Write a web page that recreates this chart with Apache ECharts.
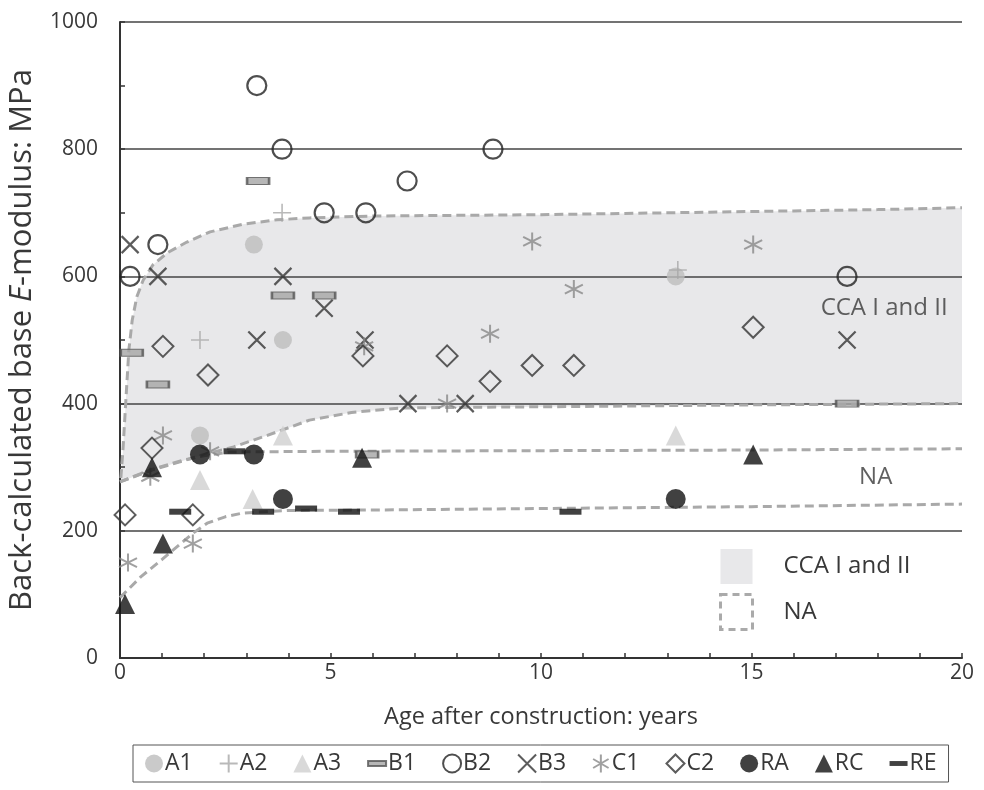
<!DOCTYPE html>
<html>
<head>
<meta charset="utf-8">
<script src="https://cdn.jsdelivr.net/npm/echarts@6/dist/echarts.min.js"></script>
<style>html,body{margin:0;padding:0;background:#fff;}#chart{width:984px;height:790px;}</style>
</head>
<body>
<div id="chart"></div>
<script>
// ---- data (x: years, y: MPa) ----
const A1 = [[3.18,650],[3.87,500],[1.9,350],[13.2,600]];
const A2 = [[3.85,700],[1.9,500],[13.25,610]];
const A3 = [[1.9,280],[3.15,250],[3.87,350],[13.2,350]];
const B1 = [[0.28,480],[0.9,430],[3.28,750],[3.87,570],[4.85,570],[5.87,320],[17.27,400]];
const B2 = [[0.24,600],[0.9,650],[3.25,900],[3.85,800],[4.85,700],[5.84,700],[6.82,750],[8.86,800],[17.27,600]];
const B3 = [[0.24,650],[0.9,600],[3.87,600],[3.25,500],[4.85,550],[5.82,500],[6.84,400],[8.2,400],[17.27,500]];
const C1 = [[0.19,150],[0.72,285],[1.02,350],[2.14,325],[1.73,180],[9.79,655],[8.79,510],[10.78,580],[7.77,400],[15.04,650],[5.8,490]];
const C2 = [[0.12,225],[0.76,330],[1.02,490],[2.09,445],[1.73,225],[5.77,475],[7.77,475],[8.79,435],[9.79,460],[10.78,460],[15.04,520]];
const RA = [[1.9,320],[3.18,320],[3.87,250],[13.2,250]];
const RC = [[0.12,85],[1.02,180],[0.76,300],[5.75,315],[15.04,320]];
const RE = [[1.43,230],[2.72,325],[3.4,230],[4.42,235],[5.44,230],[10.7,230]];

const ccaUpper = [[0.02,283],[0.07,327],[0.14,406],[0.21,484],[0.29,531],[0.4,568],[0.55,594],[0.78,618],[1.12,637],[1.59,654],[2.14,670],[2.92,682],[3.73,689],[4.5,692],[6,695],[8,696],[10,697],[12,699],[14,701],[16,703],[18,705],[20,708]];
const ccaLower = [[0,277],[0.78,296],[1.5,310],[2,320],[2.7,332],[3.5,350],[4.5,374],[5.5,386],[6.65,393],[8,394],[10,395],[15,398],[20,400]];
const naUpper = [[0,277],[0.78,297],[1.5,311],[2,318],[2.6,324],[5,325],[10,326],[15,327],[20,329]];
const naLower = [[0,95],[0.5,128],[1,155],[1.73,196],[2.07,212],[2.5,222],[2.92,228],[4,232],[6.65,233],[10,235],[15,238],[20,242]];

const annotations = [[18.15,550,'CCA I and II'],[17.95,285,'NA']];
const markerNames = ['A1','A2','A3','B1','B2','B3','C1','C2','RA','RC','RE'];

// ---- styles ----
const FONT = 'Open Sans';
const TXT = '#383838';
const FS = 21;
const FS2 = 24;
const PLUS = 'path://M5,0V10M0,5H10';
const CROSS = 'path://M0,0L10,10M10,0L0,10';
const STAR = 'path://M5,0V10M0.7,2.5L9.3,7.5M9.3,2.5L0.7,7.5';
const DASH = 'path://M0,0H22V6H0Z';
const NOFILL = 'rgba(0,0,0,0)';

function sc(name, data, symbol, size, itemStyle) {
  return {name: name, type: 'scatter', data: data, symbol: symbol, symbolSize: size,
    itemStyle: itemStyle, z: 5, emphasis: {disabled: true}};
}
function dashLine(name, data) {
  return {name: name, type: 'line', data: data, showSymbol: false, symbol: 'none', z: 3,
    lineStyle: {color: '#a9a9a9', width: 3, type: [9, 5]}, emphasis: {disabled: true}};
}

const series = [
  {
    name: 'CCA I and II', type: 'custom', z: -1, silent: true,
    itemStyle: {color: '#e8e8ea'},
    data: [0],
    renderItem: function (params, api) {
      const pts = ccaUpper.concat(ccaLower.slice().reverse()).map(p => api.coord(p));
      return {type: 'polygon', shape: {points: pts}, style: {fill: '#e8e8ea'}};
    }
  },
  dashLine('ccaU', ccaUpper),
  dashLine('ccaL', ccaLower),
  dashLine('NA', naUpper),
  dashLine('NA', naLower),
  sc('A1', A1, 'circle', 18, {color: '#bdbdbd'}),
  sc('A2', A2, PLUS, 18, {color: NOFILL, borderColor: '#a8a8a8', borderWidth: 1.6}),
  sc('A3', A3, 'triangle', 20, {color: '#cfcfcf'}),
  sc('B1', B1, DASH, [22, 7], {color: '#a5a5a5', borderColor: '#555', borderWidth: 1.5}),
  sc('B2', B2, 'circle', 19, {color: NOFILL, borderColor: '#222', borderWidth: 2.2}),
  sc('B3', B3, CROSS, 17, {color: NOFILL, borderColor: '#333', borderWidth: 2.2}),
  sc('C1', C1, STAR, 18, {color: NOFILL, borderColor: '#888', borderWidth: 2}),
  sc('C2', C2, 'diamond', [21, 21], {color: NOFILL, borderColor: '#333', borderWidth: 2}),
  sc('RA', RA, 'circle', 20, {color: '#111'}),
  sc('RC', RC, 'triangle', 20, {color: '#111'}),
  sc('RE', RE, DASH, [22, 6], {color: '#111'}),
  {
    name: 'annot', type: 'scatter', data: annotations, symbolSize: 1, z: 6, silent: true,
    itemStyle: {color: NOFILL},
    label: {show: true, position: 'inside', formatter: p => p.data[2],
      fontFamily: FONT, fontSize: FS2, color: TXT}
  }
];

const chart = echarts.init(document.getElementById('chart'), null, {renderer: 'canvas'});
chart.setOption({
  animation: false,
  backgroundColor: '#fff',
  grid: {left: 120, right: 22, top: 22, bottom: 132, containLabel: false, outerBoundsMode: 'none'},
  xAxis: {
    type: 'value', min: 0, max: 20, interval: 5,
    name: 'Age after construction: years', nameLocation: 'middle', nameGap: 47,
    nameTextStyle: {fontFamily: FONT, fontSize: 23.5, color: TXT},
    axisLine: {show: true, lineStyle: {color: '#333', width: 2}},
    axisTick: {show: true, inside: true, length: 5, lineStyle: {color: '#333', width: 1.5}},
    minorTick: {show: true, splitNumber: 5, length: 5, lineStyle: {color: '#333', width: 1.5}},
    axisLabel: {fontFamily: FONT, fontSize: FS, color: TXT, margin: 5, formatter: v => String(v)},
    splitLine: {show: false}
  },
  yAxis: {
    type: 'value', min: 0, max: 1000, interval: 200,
    name: '{a|Back-calculated base }{i|E}{a|-modulus: MPa}', nameLocation: 'middle', nameGap: 82,
    nameTextStyle: {fontFamily: FONT, fontSize: 31, color: TXT,
      rich: {a: {fontFamily: FONT, fontSize: 31, color: TXT}, i: {fontFamily: FONT, fontSize: 31, color: TXT, fontStyle: 'italic'}}},
    axisLine: {show: true, lineStyle: {color: '#333', width: 2}},
    axisTick: {show: true, inside: true, length: 5, lineStyle: {color: '#333', width: 1.5}},
    minorTick: {show: true, splitNumber: 2, length: 5, lineStyle: {color: '#333', width: 1.5}},
    axisLabel: {fontFamily: FONT, fontSize: FS, color: TXT, margin: 22, formatter: v => String(v)},
    splitLine: {show: true, lineStyle: {color: '#444', width: 1.5}}
  },
  legend: [
    {
      data: markerNames,
      left: 133, top: 745,
      orient: 'horizontal',
      itemWidth: 18, itemHeight: 18, itemGap: 26,
      borderColor: '#555', borderWidth: 1, padding: [7, 12],
      selectedMode: false,
      textStyle: {fontFamily: FONT, fontSize: 23, color: TXT, padding: [0, 0, 0, -3]}
    },
    {
      data: [
        {name: 'CCA I and II', icon: 'rect', itemStyle: {color: '#e8e8ea', borderWidth: 0}},
        {name: 'NA', icon: 'rect', itemStyle: {color: '#fff', borderColor: '#aaa', borderWidth: 3, borderType: [7, 5]}, lineStyle: {opacity: 0}}
      ],
      left: 714, top: 544, orient: 'vertical',
      itemWidth: 32, itemHeight: 35, itemGap: 9,
      selectedMode: false,
      textStyle: {fontFamily: FONT, fontSize: FS2, color: TXT, padding: [0, 0, 0, 26]}
    }
  ],
  series: series
});
</script>
</body>
</html>
